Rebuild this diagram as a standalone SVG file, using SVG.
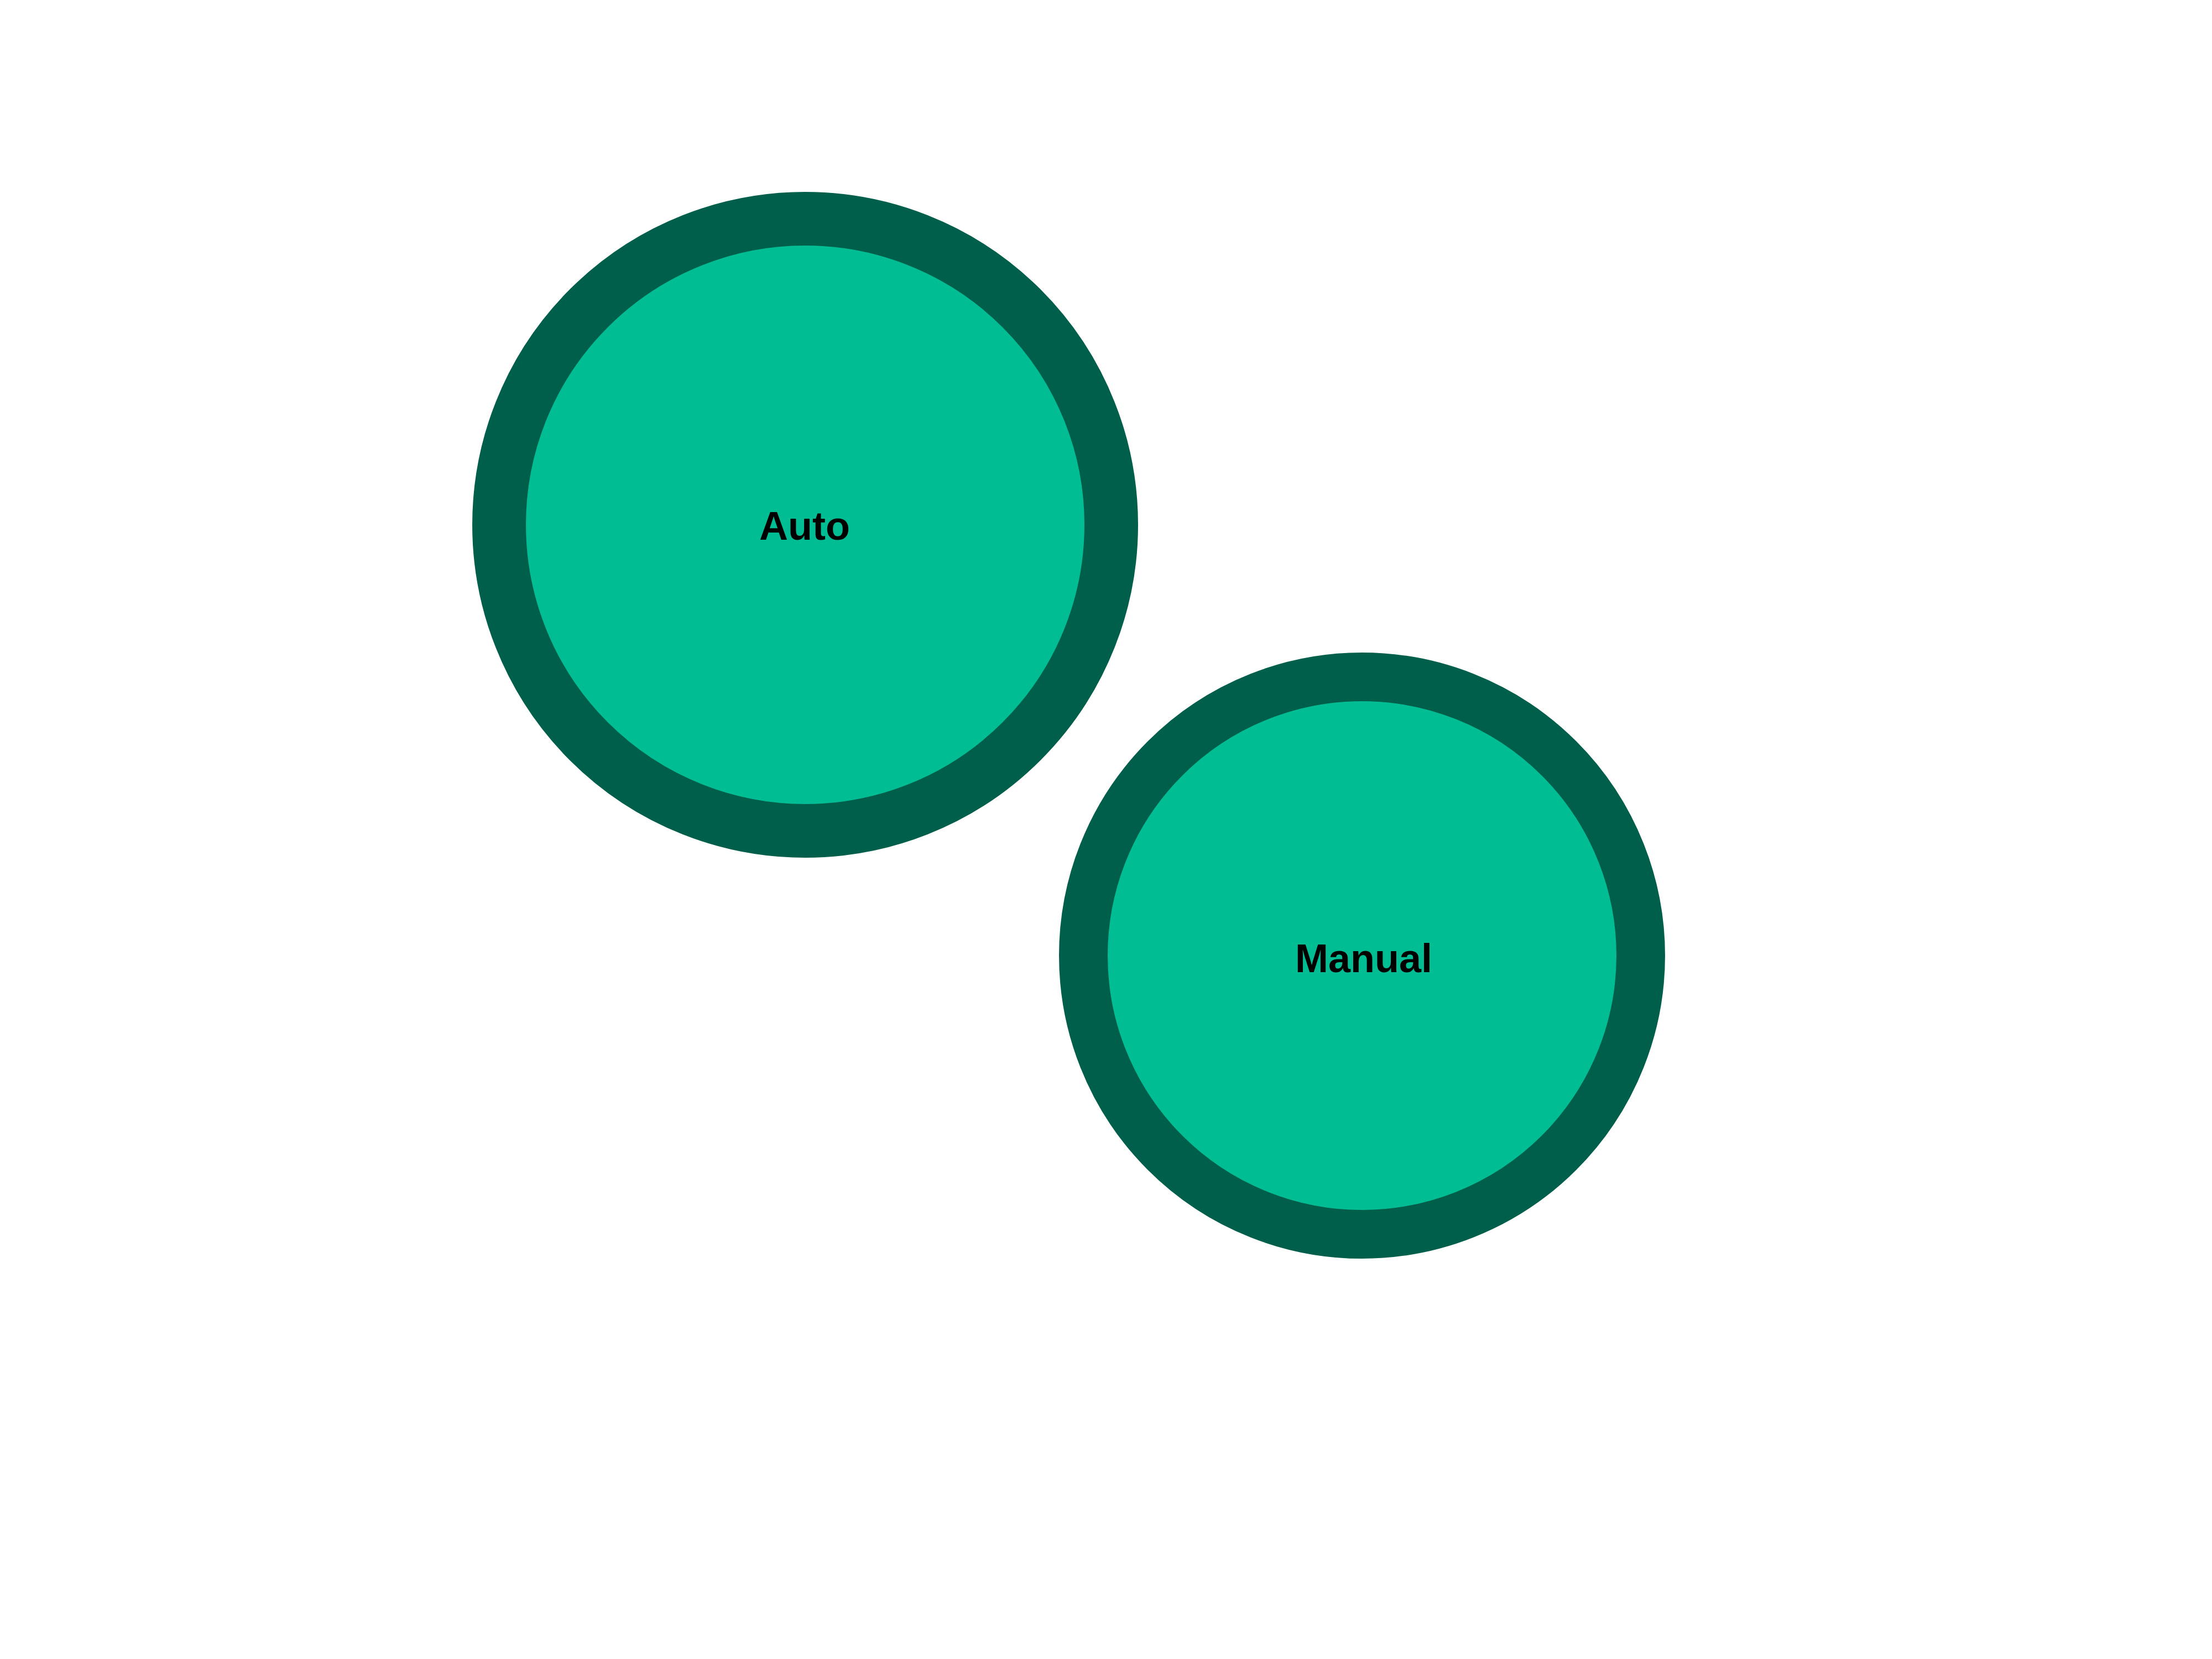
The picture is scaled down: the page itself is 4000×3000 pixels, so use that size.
<svg xmlns="http://www.w3.org/2000/svg" width="4000" height="3000" viewBox="0 0 4000 3000">
<style>
.node circle{fill:#00bd94;stroke:#005f4b}
.node text{font-family:"Liberation Sans",Arial,sans-serif;font-weight:bold;font-size:72px;fill:#000;text-anchor:middle;dominant-baseline:central}
</style>
<rect width="4000" height="3000" fill="#ffffff"/>
<g id="connectors"></g>
<g id="auto" class="node">
<circle cx="1456" cy="949" r="553.5" stroke-width="97"/>
<text x="1455" y="951">Auto</text>
</g>
<g id="manual" class="node">
<circle cx="2463" cy="1728" r="504" stroke-width="88"/>
<text x="2466" y="1733">Manual</text>
</g>
</svg>
